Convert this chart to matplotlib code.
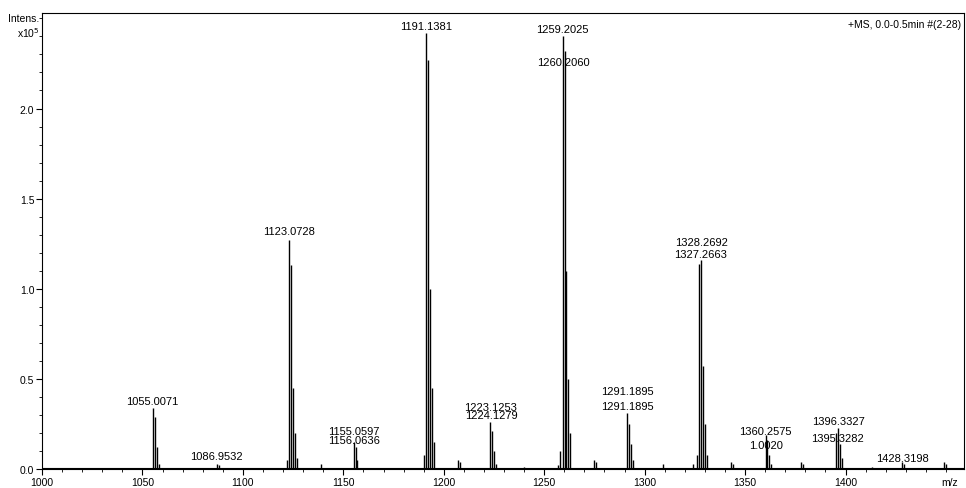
import matplotlib
matplotlib.use("Agg")
import matplotlib.pyplot as plt
from matplotlib.ticker import MultipleLocator, FixedLocator, FormatStrFormatter

plt.rcParams['font.family'] = ['Liberation Sans', 'DejaVu Sans']

# peak list (m/z, intensity x10^5)
mz = [1055.0, 1056.0, 1057.0, 1058.0,
      1087.0, 1088.0,
      1122.0, 1123.07, 1124.07, 1125.0, 1126.0, 1127.0,
      1139.0,
      1155.06, 1156.06, 1157.0,
      1190.0, 1191.14, 1192.14, 1193.0, 1194.0, 1195.0,
      1207.0, 1208.0,
      1223.13, 1224.13, 1225.0, 1226.0,
      1240.0, 1257.0,
      1258.0, 1259.2, 1260.21, 1261.0, 1262.0, 1263.0,
      1275.0, 1276.0,
      1291.19, 1292.19, 1293.0, 1294.0,
      1309.0, 1324.0,
      1326.0, 1327.27, 1328.27, 1329.0, 1330.0, 1331.0,
      1343.0, 1344.0,
      1360.26, 1361.0, 1362.0, 1363.0,
      1378.0, 1379.0,
      1395.33, 1396.33, 1397.0, 1398.0,
      1413.0,
      1428.32, 1429.0,
      1449.0, 1450.0]
intens = [0.34, 0.29, 0.12, 0.03,
          0.03, 0.02,
          0.05, 1.27, 1.13, 0.45, 0.2, 0.06,
          0.025,
          0.15, 0.12, 0.05,
          0.08, 2.42, 2.27, 1.0, 0.45, 0.15,
          0.05, 0.04,
          0.26, 0.21, 0.1, 0.03,
          0.01, 0.02,
          0.1, 2.40, 2.32, 1.1, 0.5, 0.2,
          0.05, 0.04,
          0.31, 0.25, 0.14, 0.05,
          0.025, 0.03,
          0.08, 1.14, 1.16, 0.57, 0.25, 0.08,
          0.04, 0.03,
          0.19, 0.16, 0.08, 0.03,
          0.04, 0.03,
          0.2, 0.23, 0.14, 0.06,
          0.01,
          0.04, 0.03,
          0.04, 0.03]

# peak annotations
lab_text = ['1055.0071', '1086.9532', '1123.0728', '1155.0597', '1156.0636',
            '1191.1381', '1223.1253', '1224.1279', '1259.2025', '1260.2060',
            '1291.1895', '1291.1895', '1328.2692', '1327.2663', '1360.2575',
            '1.0020', '1396.3327', '1395.3282', '1428.3198']
lab_x = [1055.0, 1087.0, 1123.07, 1155.06, 1155.3,
         1191.14, 1223.13, 1223.6, 1259.2, 1259.6,
         1291.19, 1291.19, 1328.27, 1327.9, 1360.26,
         1360.26, 1396.33, 1395.9, 1428.32]
lab_y = [0.378, 0.072, 1.32, 0.21, 0.16,
         2.46, 0.345, 0.30, 2.44, 2.26,
         0.433, 0.35, 1.26, 1.195, 0.21,
         0.133, 0.267, 0.172, 0.06]

x_major = [1000, 1050, 1100, 1150, 1200, 1250, 1300, 1350, 1400]
y_major = [0.0, 0.5, 1.0, 1.5, 2.0]

fig = plt.figure(figsize=(9.66, 4.89), dpi=100)
ax = fig.add_axes([0.0435, 0.0389, 0.9545, 0.9325])

ax.vlines(mz, 0, intens, colors='black', lw=1.0)
ax.axhline(0.004, color='black', lw=0.8)

for t, x, y in zip(lab_text, lab_x, lab_y):
    ax.text(x, y, t, ha='center', va='center', fontsize=8, clip_on=False)

ax.set_xlim(1000, 1459)
ax.set_ylim(0, 2.53)
ax.xaxis.set_major_locator(FixedLocator(x_major))
ax.xaxis.set_minor_locator(MultipleLocator(10))
ax.yaxis.set_major_locator(FixedLocator(y_major))
ax.yaxis.set_minor_locator(MultipleLocator(0.1))
ax.yaxis.set_major_formatter(FormatStrFormatter('%.1f'))
ax.tick_params(which='major', direction='out', length=4, width=0.8, labelsize=7.5, pad=1.5)
ax.tick_params(which='minor', direction='out', length=2.5, width=0.6)
for s in ax.spines.values():
    s.set_linewidth(0.8)

fig.text(0.041, 0.962, 'Intens.', ha='right', va='center', fontsize=7.5)
fig.text(0.041, 0.932, 'x10$^5$', ha='right', va='center', fontsize=7.5)
ax.text(0.997, 0.975, '+MS, 0.0-0.5min #(2-28)', transform=ax.transAxes,
        ha='right', va='center', fontsize=7.5)
fig.text(0.983, 0.012, 'm/z', ha='center', va='center', fontsize=7.5)

fig.savefig('out.png', dpi=100)
